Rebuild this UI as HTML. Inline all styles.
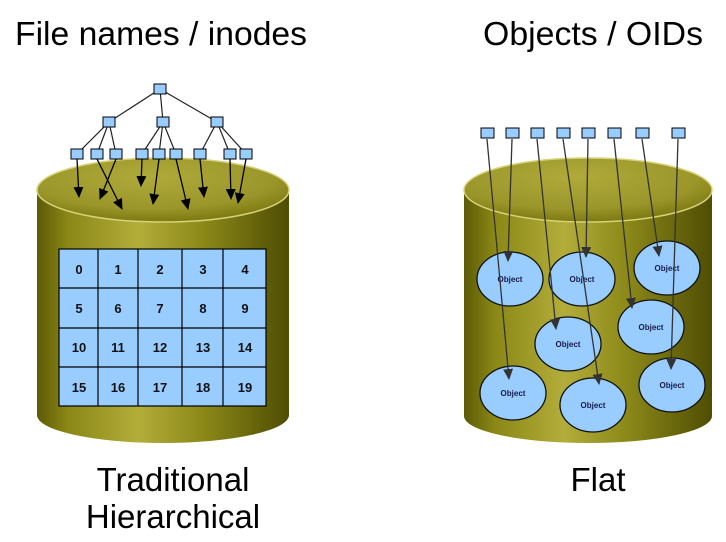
<!DOCTYPE html>
<html><head><style>
html,body{margin:0;padding:0;background:#fff;}
svg{display:block;}
</style></head><body>
<svg width="726" height="542" viewBox="0 0 726 542" xmlns="http://www.w3.org/2000/svg" font-family="Liberation Sans, Arial, sans-serif">
<defs>
<linearGradient id="body" x1="0" x2="1" y1="0" y2="0">
<stop offset="0" stop-color="#5c5a05"/>
<stop offset="0.12" stop-color="#8a8716"/>
<stop offset="0.4" stop-color="#b3ad3a"/>
<stop offset="0.65" stop-color="#8d8a1a"/>
<stop offset="1" stop-color="#4f4d03"/>
</linearGradient>
<radialGradient id="top" cx="0.45" cy="0.3" r="0.7">
<stop offset="0" stop-color="#b0aa3a"/>
<stop offset="0.7" stop-color="#9a962a"/>
<stop offset="1" stop-color="#7c7910"/>
</radialGradient>
<marker id="ah" markerWidth="11" markerHeight="10" refX="10" refY="5" orient="auto" markerUnits="userSpaceOnUse" viewBox="0 0 11 10">
<path d="M0,0 L11,5 L0,10 z" fill="#000"/>
</marker>
<marker id="ah2" markerWidth="11" markerHeight="10" refX="10" refY="5" orient="auto" markerUnits="userSpaceOnUse" viewBox="0 0 11 10">
<path d="M0,0 L11,5 L0,10 z" fill="#333"/>
</marker>
</defs>

<text x="15" y="45" font-size="33" fill="#000" textLength="292" lengthAdjust="spacingAndGlyphs">File names / inodes</text>
<text x="483" y="45" font-size="33" fill="#000" textLength="220" lengthAdjust="spacingAndGlyphs">Objects / OIDs</text>

<!-- Left cylinder -->
<path d="M37,190 L37,415 A126,28 0 0 0 289,415 L289,190 Z" fill="url(#body)"/>
<ellipse cx="163" cy="190" rx="126" ry="32" fill="url(#top)" stroke="#d8d27a" stroke-width="1.5"/>
<!-- Right cylinder -->
<path d="M464,190 L464,416 A124,27 0 0 0 712,416 L712,190 Z" fill="url(#body)"/>
<ellipse cx="588" cy="190" rx="124" ry="32" fill="url(#top)" stroke="#d8d27a" stroke-width="1.5"/>

<!-- grid -->
<g stroke="#000" stroke-width="1.2" fill="#99ccff">
<rect x="59" y="249" width="207" height="157"/>
</g>
<g stroke="#000" stroke-width="1.2">
<line x1="98" y1="249" x2="98" y2="406"/><line x1="138" y1="249" x2="138" y2="406"/>
<line x1="182" y1="249" x2="182" y2="406"/><line x1="223" y1="249" x2="223" y2="406"/>
<line x1="59" y1="288" x2="266" y2="288"/><line x1="59" y1="328" x2="266" y2="328"/><line x1="59" y1="367" x2="266" y2="367"/>
</g>
<g font-size="13" font-weight="bold" text-anchor="middle" fill="#111">
<text x="79" y="274">0</text><text x="118" y="274">1</text><text x="160" y="274">2</text><text x="203" y="274">3</text><text x="245" y="274">4</text>
<text x="79" y="313">5</text><text x="118" y="313">6</text><text x="160" y="313">7</text><text x="203" y="313">8</text><text x="245" y="313">9</text>
<text x="79" y="352">10</text><text x="118" y="352">11</text><text x="160" y="352">12</text><text x="203" y="352">13</text><text x="245" y="352">14</text>
<text x="79" y="392">15</text><text x="118" y="392">16</text><text x="160" y="392">17</text><text x="203" y="392">18</text><text x="245" y="392">19</text>
</g>

<!-- tree -->
<g stroke="#222" stroke-width="1.2">
<line x1="160" y1="89" x2="109" y2="122"/><line x1="160" y1="89" x2="163" y2="122"/><line x1="160" y1="89" x2="217" y2="122"/>
<line x1="109" y1="122" x2="77" y2="154"/><line x1="109" y1="122" x2="97" y2="154"/><line x1="109" y1="122" x2="116" y2="154"/>
<line x1="163" y1="122" x2="142" y2="154"/><line x1="163" y1="122" x2="159" y2="154"/><line x1="163" y1="122" x2="176" y2="154"/>
<line x1="217" y1="122" x2="200" y2="154"/><line x1="217" y1="122" x2="230" y2="154"/><line x1="217" y1="122" x2="246" y2="154"/>
</g>
<g stroke="#000" stroke-width="1.3" marker-end="url(#ah)">
<line x1="77" y1="159" x2="79" y2="197"/>
<line x1="97" y1="159" x2="122" y2="209"/>
<line x1="116" y1="159" x2="100" y2="199"/>
<line x1="142" y1="159" x2="141" y2="186"/>
<line x1="159" y1="159" x2="153" y2="204"/>
<line x1="176" y1="159" x2="188" y2="209"/>
<line x1="200" y1="159" x2="204" y2="197"/>
<line x1="230" y1="159" x2="231" y2="199"/>
<line x1="246" y1="159" x2="238" y2="203"/>
</g>
<g fill="#99ccff" stroke="#000" stroke-width="1">
<rect x="154" y="84" width="12" height="10"/>
<rect x="103" y="117" width="12" height="10"/><rect x="157" y="117" width="12" height="10"/><rect x="211" y="117" width="12" height="10"/>
<rect x="71" y="149" width="12" height="10"/><rect x="91" y="149" width="12" height="10"/><rect x="110" y="149" width="12" height="10"/>
<rect x="136" y="149" width="12" height="10"/><rect x="153" y="149" width="12" height="10"/><rect x="170" y="149" width="12" height="10"/>
<rect x="194" y="149" width="12" height="10"/><rect x="224" y="149" width="12" height="10"/><rect x="240" y="149" width="12" height="10"/>
</g>

<!-- objects -->
<g fill="#99ccff" stroke="#111" stroke-width="1.3">
<ellipse cx="510" cy="279" rx="33" ry="27"/>
<ellipse cx="582" cy="279" rx="33" ry="27"/>
<ellipse cx="667" cy="268" rx="33" ry="27"/>
<ellipse cx="568" cy="344" rx="33" ry="27"/>
<ellipse cx="651" cy="327" rx="33" ry="27"/>
<ellipse cx="513" cy="393" rx="33" ry="27"/>
<ellipse cx="593" cy="405" rx="33" ry="27"/>
<ellipse cx="672" cy="385" rx="33" ry="27"/>
</g>
<g font-size="8" text-anchor="middle" fill="#1a1a4a" font-weight="bold">
<text x="510" y="282">Object</text><text x="582" y="282">Object</text><text x="667" y="271">Object</text>
<text x="568" y="347">Object</text><text x="651" y="330">Object</text><text x="513" y="396">Object</text>
<text x="593" y="408">Object</text><text x="672" y="388">Object</text>
</g>
<g stroke="#333" stroke-width="1.3" marker-end="url(#ah2)">
<line x1="487" y1="139" x2="509" y2="379"/>
<line x1="512" y1="139" x2="508" y2="261"/>
<line x1="537" y1="139" x2="556" y2="329"/>
<line x1="563" y1="139" x2="599" y2="384"/>
<line x1="588" y1="139" x2="586" y2="257"/>
<line x1="614" y1="139" x2="632" y2="308"/>
<line x1="642" y1="139" x2="659" y2="256"/>
<line x1="678" y1="139" x2="671" y2="369"/>
</g>
<g fill="#99ccff" stroke="#000" stroke-width="1">
<rect x="481" y="128" width="13" height="10"/><rect x="506" y="128" width="13" height="10"/>
<rect x="531" y="128" width="13" height="10"/><rect x="557" y="128" width="13" height="10"/>
<rect x="582" y="128" width="13" height="10"/><rect x="608" y="128" width="13" height="10"/>
<rect x="636" y="128" width="13" height="10"/><rect x="672" y="128" width="13" height="10"/>
</g>

<g font-size="33" text-anchor="middle" fill="#000">
<text x="173" y="491">Traditional</text>
<text x="173" y="528">Hierarchical</text>
<text x="598" y="491">Flat</text>
</g>
</svg>
</body></html>
